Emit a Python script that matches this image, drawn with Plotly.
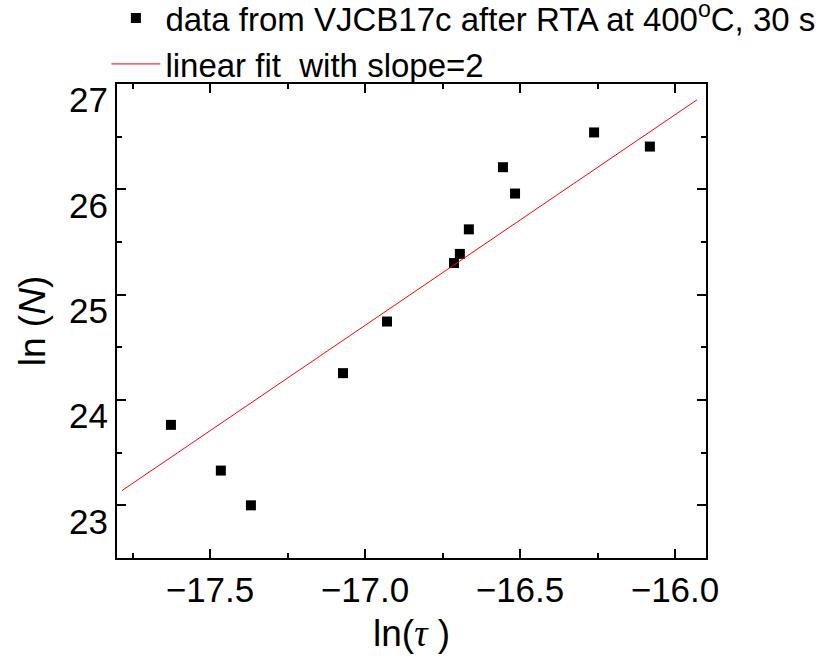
import plotly.graph_objects as go

# data
ln_tau = [-17.626, -17.465, -17.368, -17.071, -16.929, -16.713, -16.694, -16.665,
          -16.555, -16.516, -16.261, -16.081]
ln_N = [23.764, 23.33, 23.0, 24.255, 24.745, 25.30, 25.387, 25.62,
        26.21, 25.96, 26.54, 26.406]

fit_x = [-17.784, -15.929]
fit_y = [23.14, 26.85]

x_ticks = [-17.5, -17.0, -16.5, -16.0]
y_ticks = [23, 24, 25, 26, 27]

FONT = "Liberation Sans, Arial, sans-serif"
SERIF = "Liberation Serif, Times New Roman, serif"

fig = go.Figure()
fig.add_trace(go.Scatter(
    x=ln_tau, y=ln_N, mode="markers",
    marker=dict(symbol="square", size=10, color="black"),
    name="data from VJCB17c after RTA at 400<sup>o</sup>C, 30 s",
    legendgroup="a",
))
fig.add_trace(go.Scatter(
    x=fit_x, y=fit_y, mode="lines",
    line=dict(color="red", width=1),
    name="linear fit  with slope=2",
    legendgroup="b",
))

axis_common = dict(
    showline=True, linecolor="black", linewidth=2, mirror="ticks",
    ticks="inside", ticklen=9, tickwidth=2, tickcolor="black",
    showgrid=False, zeroline=False,
    tickfont=dict(family=FONT, size=35, color="black"),
)

fig.update_xaxes(
    range=[-17.8, -15.9], tickvals=x_ticks, tickformat=".1f",
    minor=dict(dtick=0.25, ticks="inside", ticklen=5, tickwidth=2, tickcolor="black", tick0=-17.5),
    title=dict(text=f"ln(<span style=\"font-family:{SERIF}\"><i>τ</i></span> )",
               font=dict(family=FONT, size=37, color="black"), standoff=12),
    **axis_common,
)
fig.update_yaxes(
    range=[22.5, 27.0], tickvals=y_ticks,
    ticklabelshift=16,
    minor=dict(dtick=0.5, ticks="inside", ticklen=5, tickwidth=2, tickcolor="black", tick0=23),
    title=dict(text="ln (<i>N</i>)", font=dict(family=FONT, size=37, color="black"), standoff=12),
    **axis_common,
)

fig.update_layout(
    width=822, height=661,
    margin=dict(l=117, r=116, t=84, b=103, autoexpand=False),
    paper_bgcolor="white", plot_bgcolor="white",
    showlegend=True,
    legend=dict(
        x=-0.018, y=0.983, xanchor="left", yanchor="bottom",
        font=dict(family=FONT, size=33, color="black"),
        bgcolor="rgba(0,0,0,0)", borderwidth=0,
        itemwidth=49, tracegroupgap=0,
    ),
)

fig.write_html("out.html")
